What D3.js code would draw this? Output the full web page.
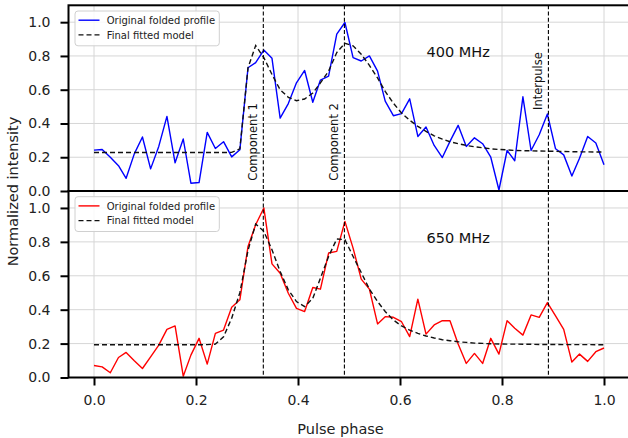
<!DOCTYPE html>
<html>
<head>
<meta charset="utf-8">
<script src="https://cdn.jsdelivr.net/npm/d3@7/dist/d3.min.js"></script>
<style>
  html, body { margin: 0; padding: 0; background: #fff; }
  svg { display: block; font-family: "DejaVu Sans", sans-serif; }
</style>
</head>
<body>
<svg id="chart" width="628" height="438"></svg>
<script>
// ---------- data ----------
const phase = [0.000,0.016,0.032,0.048,0.063,0.079,0.095,0.111,0.127,0.143,
  0.159,0.175,0.190,0.206,0.222,0.238,0.254,0.270,0.286,0.302,
  0.317,0.333,0.349,0.365,0.381,0.397,0.413,0.429,0.444,0.460,
  0.476,0.492,0.508,0.524,0.540,0.556,0.571,0.587,0.603,0.619,
  0.635,0.651,0.667,0.683,0.698,0.714,0.730,0.746,0.762,0.778,
  0.794,0.810,0.825,0.841,0.857,0.873,0.889,0.905,0.921,0.937,
  0.952,0.968,0.984,1.000];

const profile400 = [0.242,0.246,0.20,0.15,0.075,0.22,0.32,0.131,0.264,0.442,
  0.167,0.308,0.046,0.05,0.347,0.252,0.292,0.202,0.244,0.73,
  0.76,0.835,0.786,0.432,0.518,0.641,0.714,0.526,0.657,0.68,
  0.929,0.998,0.79,0.77,0.80,0.71,0.532,0.446,0.458,0.546,
  0.323,0.379,0.27,0.198,0.294,0.389,0.264,0.315,0.28,0.20,
  0.006,0.24,0.179,0.558,0.24,0.333,0.456,0.25,0.214,0.089,
  0.194,0.323,0.284,0.155];

const model400 = [0.228,0.228,0.228,0.228,0.228,0.228,0.228,0.228,0.228,0.228,
  0.228,0.228,0.228,0.228,0.228,0.228,0.228,0.229,0.25,0.73,
  0.862,0.79,0.69,0.60,0.555,0.535,0.545,0.58,0.64,0.71,
  0.82,0.875,0.86,0.81,0.744,0.67,0.59,0.52,0.462,0.419,
  0.383,0.353,0.327,0.307,0.292,0.28,0.27,0.262,0.256,0.25,
  0.246,0.244,0.24,0.239,0.238,0.237,0.236,0.235,0.234,0.233,
  0.232,0.232,0.231,0.231];

const profile650 = [0.071,0.063,0.028,0.118,0.148,0.099,0.053,0.122,0.191,0.284,
  0.304,0.008,0.132,0.231,0.079,0.26,0.28,0.414,0.458,0.773,
  0.901,1.0,0.67,0.615,0.497,0.408,0.389,0.531,0.521,0.734,
  0.744,0.921,0.763,0.58,0.521,0.316,0.359,0.355,0.329,0.241,
  0.462,0.256,0.31,0.335,0.335,0.197,0.083,0.142,0.083,0.231,
  0.138,0.335,0.29,0.25,0.369,0.355,0.442,0.363,0.284,0.091,
  0.138,0.095,0.152,0.174];

const model650 = [0.193,0.193,0.193,0.193,0.193,0.193,0.193,0.193,0.193,0.193,
  0.193,0.193,0.193,0.193,0.194,0.197,0.24,0.35,0.50,0.75,
  0.905,0.862,0.753,0.625,0.517,0.448,0.418,0.467,0.586,0.714,
  0.817,0.813,0.714,0.619,0.521,0.448,0.389,0.339,0.304,0.28,
  0.26,0.245,0.233,0.223,0.217,0.211,0.207,0.203,0.201,0.199,
  0.198,0.197,0.197,0.196,0.196,0.195,0.195,0.195,0.194,0.194,
  0.194,0.194,0.193,0.193];

const xTicks = [0.0, 0.2, 0.4, 0.6, 0.8, 1.0];
const yTicks = [0.0, 0.2, 0.4, 0.6, 0.8, 1.0];
const markerPhases = [0.332, 0.491, 0.891];
const markerLabels = ["Component 1", "Component 2", "Interpulse"];
const markerLabelY = [0.06, 0.06, 0.48];
const legendLabels = ["Original folded profile", "Final fitted model"];
const panels = [
  { name: "400 MHz", profile: profile400, model: model400, color: "#0000ff", labels: true },
  { name: "650 MHz", profile: profile650, model: model650, color: "#ff0000", labels: false }
];

// ---------- layout ----------
const svg = d3.select("#chart");
const left = 68.5, right = 629.5;
const panelBox = [ { top: 5.3, bottom: 191 }, { top: 191, bottom: 377.5 } ];
const x = d3.scaleLinear().domain([-0.05, 1.05]).range([left, right]);
const fmt = d3.format(".1f");

panels.forEach((p, k) => {
  const box = panelBox[k];
  const y = d3.scaleLinear().domain([0, 1.1]).range([box.bottom, box.top]);
  const g = svg.append("g");

  // grid
  g.append("g").selectAll("line.gx").data(xTicks).join("line")
    .attr("x1", d => x(d)).attr("x2", d => x(d))
    .attr("y1", box.top).attr("y2", box.bottom)
    .attr("stroke", "#d6d6d6").attr("stroke-width", 1);
  g.append("g").selectAll("line.gy").data(yTicks).join("line")
    .attr("x1", left).attr("x2", right)
    .attr("y1", d => y(d)).attr("y2", d => y(d))
    .attr("stroke", "#d6d6d6").attr("stroke-width", 1);

  // data lines
  const line = d3.line().x((d, i) => x(phase[i])).y(d => y(d));
  g.append("path").datum(p.profile).attr("d", line)
    .attr("fill", "none").attr("stroke", p.color).attr("stroke-width", 1.4)
    .attr("stroke-linejoin", "round");
  g.append("path").datum(p.model).attr("d", line)
    .attr("fill", "none").attr("stroke", "#111").attr("stroke-width", 1.4)
    .attr("stroke-dasharray", "5,3");

  // vertical markers
  g.append("g").selectAll("line").data(markerPhases).join("line")
    .attr("x1", d => x(d)).attr("x2", d => x(d))
    .attr("y1", box.top).attr("y2", box.bottom)
    .attr("stroke", "#000").attr("stroke-width", 1.1)
    .attr("stroke-dasharray", "4,2.2");

  if (p.labels) {
    g.append("g").selectAll("text").data(markerPhases).join("text")
      .attr("transform", (d, i) => `translate(${x(d) - 6},${y(markerLabelY[i])}) rotate(-90)`)
      .attr("font-size", "11.5px").attr("fill", "#111")
      .text((d, i) => markerLabels[i]);
  }

  // frequency label
  g.append("text").attr("x", x(0.652)).attr("y", y(0.795))
    .attr("font-size", "14.5px").attr("fill", "#111").text(p.name);

  // y axis
  const yAxis = d3.axisLeft(y).tickValues(yTicks).tickFormat(fmt).tickSize(8).tickPadding(10);
  const ya = g.append("g").attr("transform", `translate(${left},0)`).call(yAxis);
  ya.select(".domain").remove();
  ya.selectAll(".tick line").attr("stroke", "#000").attr("stroke-width", 2);
  ya.selectAll(".tick text").attr("font-size", "14px").attr("fill", "#222")
    .attr("font-family", "DejaVu Sans, sans-serif");

  // x axis for bottom panel
  if (k === 1) {
    const xAxis = d3.axisBottom(x).tickValues(xTicks).tickFormat(fmt).tickSize(8).tickPadding(10);
    const xa = g.append("g").attr("transform", `translate(0,${box.bottom})`).call(xAxis);
    xa.select(".domain").remove();
    xa.selectAll(".tick line").attr("stroke", "#000").attr("stroke-width", 2);
    xa.selectAll(".tick text").attr("font-size", "14px").attr("fill", "#222")
      .attr("font-family", "DejaVu Sans, sans-serif");
  }

  // legend
  const lgTop = k === 0 ? 11 : 196.7;
  const lg = g.append("g");
  lg.append("rect").attr("x", 75).attr("y", lgTop).attr("width", 144.3).attr("height", 34.8)
    .attr("rx", 3).attr("fill", "#fff").attr("fill-opacity", 0.85)
    .attr("stroke", "#d0d0d0").attr("stroke-width", 1);
  legendLabels.forEach((lab, j) => {
    const cy = lgTop + 9.2 + j * 14.7;
    lg.append("line").attr("x1", 78.5).attr("x2", 99.5).attr("y1", cy).attr("y2", cy)
      .attr("stroke", j === 0 ? p.color : "#111").attr("stroke-width", 1.4)
      .attr("stroke-dasharray", j === 0 ? null : "5,3");
    lg.append("text").attr("x", 106.7).attr("y", cy + 3.6)
      .attr("font-size", "10px").attr("fill", "#222").text(lab);
  });

  // spines
  g.append("rect").attr("x", left).attr("y", box.top)
    .attr("width", right - left).attr("height", box.bottom - box.top)
    .attr("fill", "none").attr("stroke", "#000").attr("stroke-width", 2);
});

// axis labels
svg.append("text").attr("x", 340.5).attr("y", 434).attr("text-anchor", "middle")
  .attr("font-size", "14.5px").attr("fill", "#222").text("Pulse phase");
svg.append("text").attr("transform", "translate(18,191.5) rotate(-90)")
  .attr("text-anchor", "middle").attr("font-size", "14.5px").attr("fill", "#222")
  .text("Normalized intensity");
</script>
</body>
</html>
